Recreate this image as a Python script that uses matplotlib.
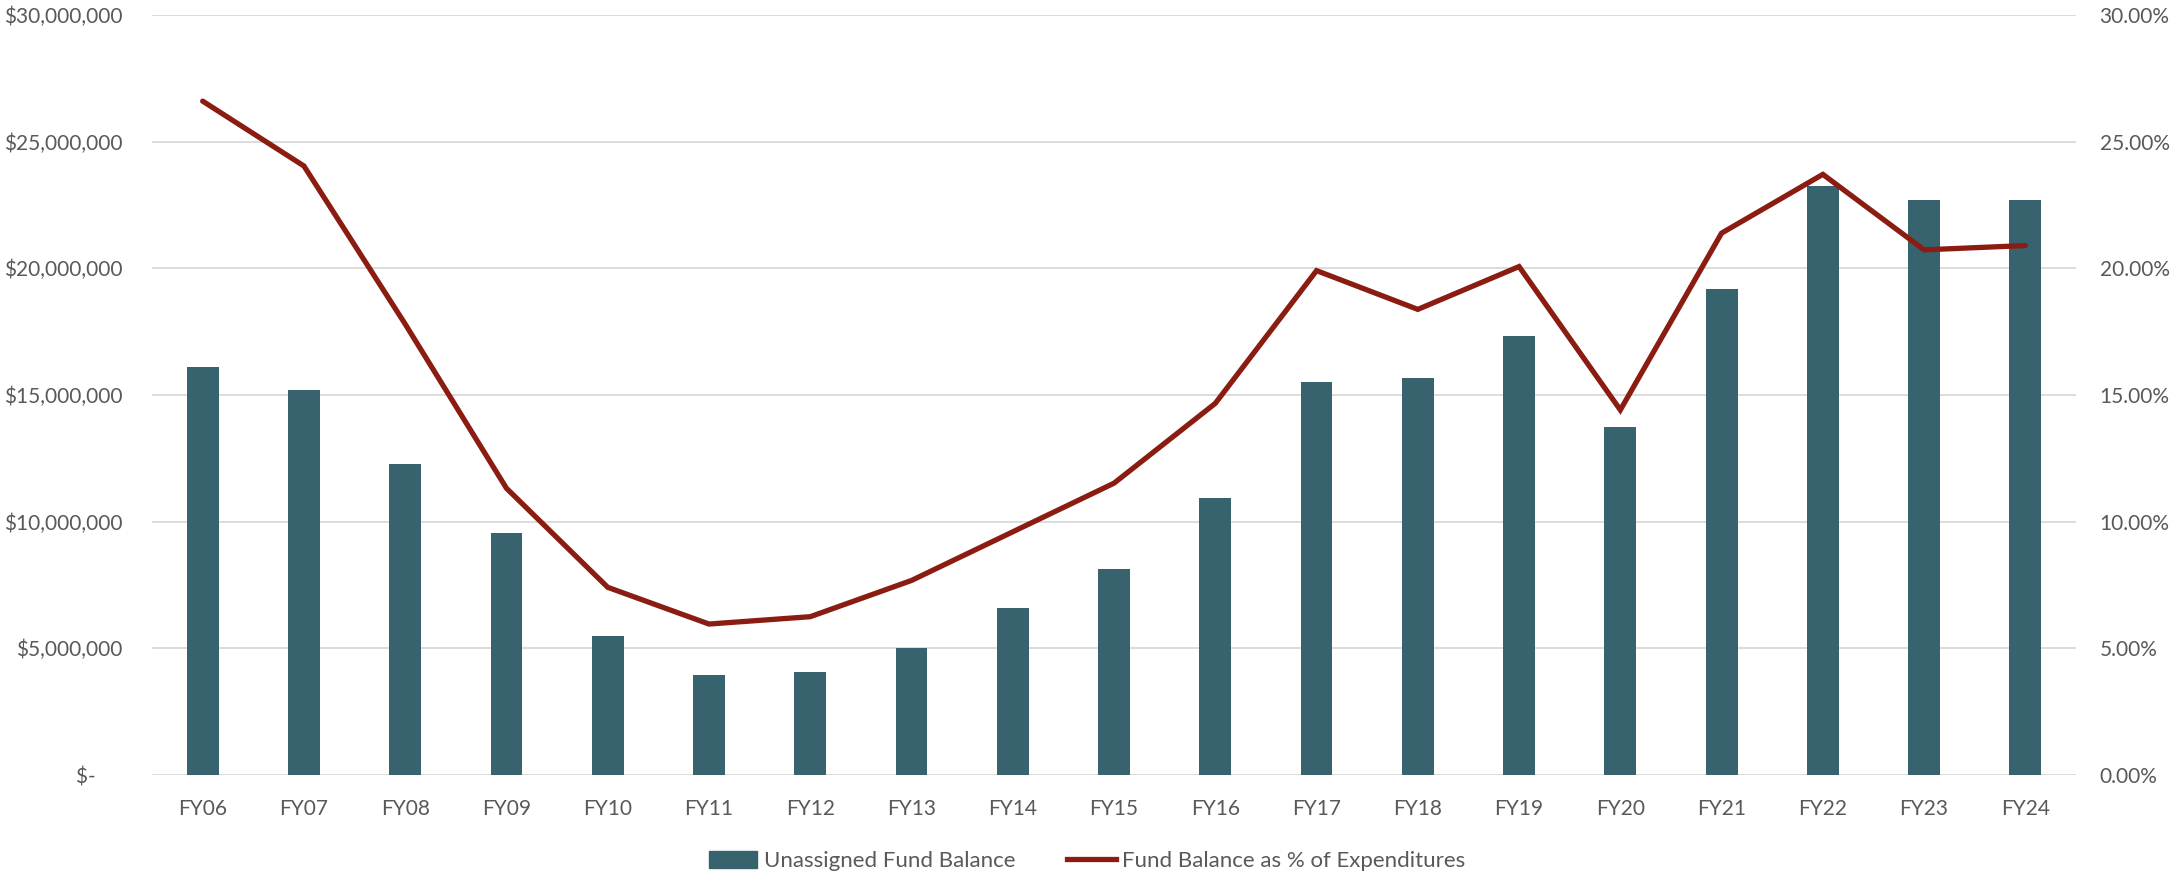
import matplotlib.pyplot as plt
from matplotlib.ticker import FuncFormatter
from matplotlib.lines import Line2D
from matplotlib.patches import Patch

# === Data ===
years = ["FY06", "FY07", "FY08", "FY09", "FY10", "FY11", "FY12", "FY13", "FY14", "FY15",
         "FY16", "FY17", "FY18", "FY19", "FY20", "FY21", "FY22", "FY23", "FY24"]
fund_balance = [16.1e6, 15.2e6, 12.27e6, 9.57e6, 5.48e6, 3.95e6, 4.07e6, 5.0e6, 6.58e6, 8.12e6,
                10.92e6, 15.51e6, 15.67e6, 17.34e6, 13.75e6, 19.17e6, 23.25e6, 22.68e6, 22.68e6]
pct_expend = [26.6, 24.04, 17.8, 11.32, 7.41, 5.96, 6.25, 7.68, 9.6, 11.52,
              14.67, 19.91, 18.38, 20.07, 14.41, 21.39, 23.71, 20.73, 20.9]

BAR_COLOR = "#36636E"
LINE_COLOR = "#8B1C12"
TEXT_COLOR = "#595959"
GRID_COLOR = "#D9D9D9"

plt.rcParams["font.family"] = ["Lato", "DejaVu Sans"]

fig = plt.figure(figsize=(21.72, 8.72), dpi=100)
ax = fig.add_axes([0.0700, 0.1112, 0.8858, 0.8716])
ax2 = ax.twinx()

x = list(range(len(years)))
ax.bar(x, fund_balance, width=0.315, color=BAR_COLOR, zorder=2)
ax2.plot(x, pct_expend, color=LINE_COLOR, lw=3.8, solid_capstyle="round",
         solid_joinstyle="miter", zorder=3)

ax.set_xlim(-0.5, len(years) - 0.5)
ax.set_ylim(0, 30e6)
ax2.set_ylim(0, 30)
ax.set_yticks([i * 5e6 for i in range(7)])
ax2.set_yticks([i * 5 for i in range(7)])


def money(v, pos):
    if v == 0:
        return "$-     "
    return f"${v:,.0f}"


ax.yaxis.set_major_formatter(FuncFormatter(money))
ax2.yaxis.set_major_formatter(FuncFormatter(lambda v, p: f"{v:.2f}%"))
ax.set_xticks(x)
ax.set_xticklabels(years)

ax.grid(axis="y", color=GRID_COLOR, lw=1.3, zorder=0)
ax.set_axisbelow(True)
for a in (ax, ax2):
    for s in a.spines.values():
        s.set_visible(False)
    a.tick_params(length=0, colors=TEXT_COLOR, labelsize=15)
ax.tick_params(axis="y", pad=21)
ax2.tick_params(axis="y", pad=17)
ax.tick_params(axis="x", pad=17)

handles = [Patch(color=BAR_COLOR), Line2D([0], [0], color=LINE_COLOR, lw=3.8)]
fig.legend(handles, ["Unassigned Fund Balance", "Fund Balance as % of Expenditures"],
           loc="center", bbox_to_anchor=(0.5005, 0.0126), ncol=2, frameon=False,
           fontsize=16, labelcolor=TEXT_COLOR, handlelength=2.2, handleheight=0.85,
           handletextpad=0.3, columnspacing=2.3)

fig.savefig("out.png", dpi=100)
